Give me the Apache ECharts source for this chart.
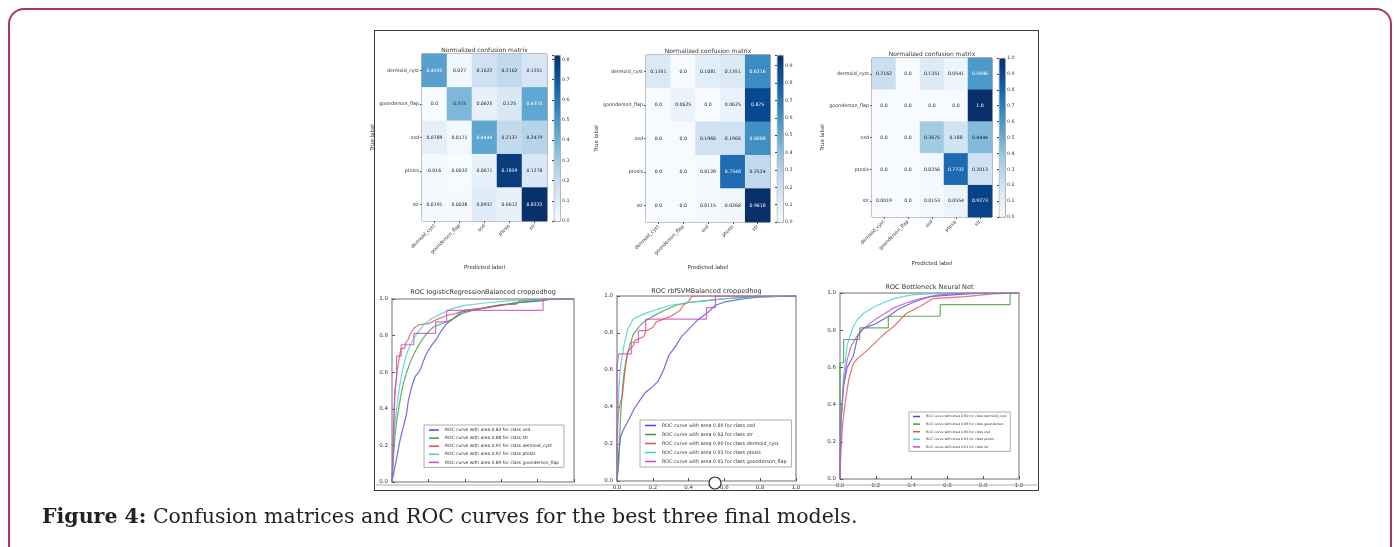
<!DOCTYPE html>
<html><head><meta charset="utf-8">
<script src="https://cdn.jsdelivr.net/npm/echarts@6/dist/echarts.min.js"></script>
<style>
html,body{margin:0;padding:0;width:1394px;height:547px;overflow:hidden;background:#fff;}
#frame{position:absolute;left:8px;top:8px;width:1384px;height:565px;border:2px solid #a8365f;border-radius:16px;box-sizing:border-box;}
#box{position:absolute;left:374px;top:30px;width:665px;height:461px;border:1.5px solid #3a3a3a;box-sizing:border-box;}
#chart{position:absolute;left:0;top:0;width:1394px;height:547px;}
#caption{position:absolute;left:42px;top:504px;font-family:'DejaVu Serif',serif;font-size:20.5px;color:#222;white-space:nowrap;}
</style></head>
<body>
<div id="frame"></div>
<div id="box"></div>
<div id="chart"></div>
<div id="caption"><b>Figure 4:</b> Confusion matrices and ROC curves for the best three final models.</div>
<script>
// ---------- data ----------
const cmCategories = ['dermoid_cyst','goonderson_flap','osd','ptosis','str'];
const cm1 = [
  [0.4595,0.027,0.1622,0.2162,0.1351],
  [0.0,0.375,0.0625,0.125,0.4375],
  [0.0789,0.0171,0.4444,0.2137,0.2479],
  [0.016,0.0032,0.0671,0.7859,0.1278],
  [0.0191,0.0038,0.0937,0.0612,0.8222]
];
const cm2 = [
  [0.1351,0.0,0.1081,0.1351,0.6216],
  [0.0,0.0625,0.0,0.0625,0.875],
  [0.0,0.0,0.1966,0.1966,0.6068],
  [0.0,0.0,0.0128,0.7348,0.2524],
  [0.0,0.0,0.0115,0.0268,0.9618]
];
const cm3 = [
  [0.2162,0.0,0.1351,0.0541,0.5946],
  [0.0,0.0,0.0,0.0,1.0],
  [0.0,0.0,0.3675,0.188,0.4444],
  [0.0,0.0,0.0256,0.7732,0.2013],
  [0.0019,0.0,0.0153,0.0554,0.9273]
];
const cmTitles = ['Normalized confusion matrix','Normalized confusion matrix','Normalized confusion matrix'];
const rocTitles = ['ROC logisticRegressionBalanced croppedhog','ROC rbfSVMBalanced croppedhog','ROC Bottleneck Neural Net'];

// ROC 1 (logistic regression)
const roc1Names = ['ROC curve with area 0.83 for class osd','ROC curve with area 0.88 for class str','ROC curve with area 0.91 for class dermoid_cyst','ROC curve with area 0.92 for class ptosis','ROC curve with area 0.89 for class goonderson_flap'];
const roc1_osd = [[0,0],[0.016,0.082],[0.044,0.228],[0.08,0.373],[0.09,0.446],[0.108,0.519],[0.126,0.574],[0.154,0.61],[0.181,0.683],[0.2,0.72],[0.218,0.747],[0.245,0.783],[0.273,0.829],[0.3,0.865],[0.337,0.893],[0.383,0.929],[0.456,0.942],[0.6,0.965],[0.69,0.98],[0.82,0.99],[0.88,1.0],[1,1]];
const roc1_str = [[0,0],[0.007,0.118],[0.016,0.246],[0.026,0.337],[0.044,0.446],[0.062,0.537],[0.081,0.601],[0.108,0.674],[0.136,0.729],[0.163,0.774],[0.19,0.811],[0.227,0.847],[0.273,0.865],[0.328,0.887],[0.383,0.92],[0.456,0.942],[0.548,0.96],[0.65,0.975],[0.77,0.99],[0.9,1.0],[1,1]];
const roc1_dermoid = [[0,0],[0.004,0.1],[0.008,0.3],[0.015,0.45],[0.022,0.55],[0.03,0.62],[0.04,0.68],[0.05,0.73],[0.07,0.73],[0.075,0.76],[0.09,0.78],[0.1,0.81],[0.12,0.84],[0.15,0.86],[0.2,0.865],[0.25,0.89],[0.3,0.91],[0.35,0.92],[0.4,0.94],[0.5,0.95],[0.6,0.97],[0.68,0.97],[0.7,0.99],[0.8,1.0],[1,1]];
const roc1_ptosis = [[0,0],[0.005,0.15],[0.016,0.32],[0.035,0.48],[0.053,0.59],[0.08,0.7],[0.108,0.765],[0.136,0.81],[0.172,0.856],[0.218,0.893],[0.273,0.92],[0.328,0.947],[0.4,0.965],[0.51,0.978],[0.64,0.99],[0.77,0.996],[1,1]];
const roc1_flap = [[0,0],[0.005,0.125],[0.01,0.3125],[0.015,0.5],[0.025,0.5625],[0.025,0.6875],[0.05,0.6875],[0.05,0.75],[0.12,0.75],[0.12,0.8125],[0.24,0.8125],[0.24,0.875],[0.3,0.875],[0.3,0.9375],[0.83,0.9375],[0.83,1.0],[1,1]];

// ROC 2 (rbf SVM)
const roc2Names = ['ROC curve with area 0.80 for class osd','ROC curve with area 0.92 for class str','ROC curve with area 0.90 for class dermoid_cyst','ROC curve with area 0.93 for class ptosis','ROC curve with area 0.91 for class goonderson_flap'];
const roc2_osd = [[0,0],[0.01,0.15],[0.02,0.24],[0.037,0.28],[0.065,0.33],[0.093,0.385],[0.13,0.44],[0.16,0.48],[0.2,0.51],[0.23,0.54],[0.26,0.6],[0.29,0.68],[0.325,0.725],[0.36,0.78],[0.4,0.82],[0.45,0.87],[0.5,0.905],[0.55,0.95],[0.61,0.97],[0.71,0.985],[0.8,0.995],[1,1]];
const roc2_str = [[0,0],[0.01,0.1],[0.02,0.35],[0.035,0.55],[0.05,0.65],[0.07,0.73],[0.09,0.79],[0.12,0.83],[0.15,0.86],[0.2,0.89],[0.26,0.92],[0.33,0.95],[0.4,0.965],[0.5,0.975],[0.6,0.985],[0.75,0.995],[1,1]];
const roc2_dermoid = [[0,0],[0,0.27],[0.01,0.38],[0.02,0.43],[0.03,0.46],[0.045,0.6],[0.06,0.7],[0.09,0.73],[0.1,0.76],[0.15,0.78],[0.16,0.81],[0.2,0.83],[0.22,0.86],[0.3,0.89],[0.35,0.92],[0.37,0.95],[0.4,0.97],[0.42,1.0],[1,1]];
const roc2_ptosis = [[0,0],[0.005,0.3],[0.01,0.5],[0.02,0.62],[0.04,0.74],[0.06,0.82],[0.09,0.875],[0.12,0.89],[0.17,0.91],[0.23,0.93],[0.3,0.95],[0.4,0.965],[0.5,0.975],[0.6,0.985],[0.8,0.995],[1,1]];
const roc2_flap = [[0,0],[0,0.625],[0.01,0.625],[0.01,0.6875],[0.08,0.6875],[0.08,0.75],[0.12,0.75],[0.12,0.8125],[0.16,0.8125],[0.16,0.875],[0.5,0.875],[0.5,0.9375],[0.55,0.9375],[0.55,1.0],[1,1]];

// ROC 3 (bottleneck neural net)
const roc3Names = ['ROC curve with area 0.90 for class dermoid_cyst','ROC curve with area 0.88 for class goonderson','ROC curve with area 0.86 for class osd','ROC curve with area 0.93 for class ptosis','ROC curve with area 0.91 for class str'];
const roc3_dermoid = [[0,0],[0.005,0.3],[0.02,0.5],[0.04,0.6],[0.074,0.66],[0.1,0.77],[0.13,0.81],[0.2,0.835],[0.28,0.88],[0.33,0.915],[0.41,0.95],[0.5,0.98],[0.63,0.99],[0.8,1.0],[1,1]];
const roc3_flap = [[0,0],[0,0.625],[0.02,0.625],[0.02,0.75],[0.11,0.75],[0.11,0.8125],[0.27,0.8125],[0.27,0.875],[0.56,0.875],[0.56,0.9375],[0.95,0.9375],[0.95,1.0],[1,1]];
const roc3_osd = [[0,0],[0.005,0.15],[0.015,0.3],[0.03,0.42],[0.05,0.54],[0.074,0.62],[0.1,0.65],[0.15,0.69],[0.22,0.755],[0.26,0.79],[0.3,0.82],[0.37,0.89],[0.45,0.93],[0.52,0.97],[0.7,0.98],[0.85,0.995],[1,1]];
const roc3_ptosis = [[0,0],[0.005,0.3],[0.02,0.55],[0.04,0.72],[0.074,0.82],[0.1,0.86],[0.13,0.89],[0.2,0.93],[0.3,0.97],[0.4,0.99],[0.5,0.995],[0.6,1.0],[1,1]];
const roc3_str = [[0,0],[0.005,0.3],[0.02,0.52],[0.04,0.64],[0.06,0.71],[0.09,0.76],[0.12,0.8],[0.16,0.83],[0.2,0.86],[0.25,0.89],[0.3,0.92],[0.38,0.95],[0.45,0.97],[0.55,0.99],[0.7,1.0],[1,1]];

// ---------- layout / style ----------
const FONT = 'DejaVu Sans';
const BLUES = ['#f7fbff','#deebf7','#c6dbef','#9ecae1','#6baed6','#4292c6','#2171b5','#08519c','#08306b'];
const ROC_COLORS = ['#4848e0','#3e9a3e','#e05050','#40d0d0','#c64cc6'];
const cmGrids = [
  {left:422, top:54, width:125, height:167, cb:{left:554, top:55, width:6, height:166}, title:47, nameGap:42, xGap:44},
  {left:646, top:55, width:124, height:167, cb:{left:777, top:55, width:6, height:167}, title:48, nameGap:43, xGap:43},
  {left:872, top:58, width:120, height:159, cb:{left:999, top:58, width:6, height:159}, title:51, nameGap:46, xGap:44}
];
const rocGrids = [
  {left:392, top:299, width:182, height:183, title:289, xlab:false, legend:{left:424, top:425, font:4.4, gap:4.1, pad:[3,5,3,5], iw:10}},
  {left:617, top:296, width:179, height:185, title:288, xlab:true, legend:{left:640, top:420, font:4.8, gap:4.0, pad:[3,5,3,5], iw:11}},
  {left:840, top:293, width:179, height:186, title:284, xlab:true, legend:{left:909, top:412, font:3.3, gap:4.6, pad:[3,4,3,4], iw:7}}
];

const cms = [cm1, cm2, cm3];
const rocs = [
  {names: roc1Names, data:[roc1_osd, roc1_str, roc1_dermoid, roc1_ptosis, roc1_flap]},
  {names: roc2Names, data:[roc2_osd, roc2_str, roc2_dermoid, roc2_ptosis, roc2_flap]},
  {names: roc3Names, data:[roc3_dermoid, roc3_flap, roc3_osd, roc3_ptosis, roc3_str]}
];

const fmtCell = v => Number.isInteger(v) ? v.toFixed(1) : String(v);

const option = {
  animation:false,
  backgroundColor:'transparent',
  textStyle:{fontFamily:FONT},
  title:[], grid:[], xAxis:[], yAxis:[], series:[], visualMap:[], legend:[],
  graphic:[
    {type:'line', shape:{x1:376, y1:485, x2:1037, y2:485}, style:{stroke:'#aaa', lineWidth:1}, z:50},
    {type:'circle', shape:{cx:715, cy:483, r:6}, style:{fill:'#fff', stroke:'#333', lineWidth:1.2}, z:60}
  ]
};

let gi = 0;
cms.forEach((cm, k) => {
  const g = cmGrids[k];
  let mx = 0; cm.forEach(r => r.forEach(v => { if (v > mx) mx = v; }));
  option.grid.push({left:g.left, top:g.top, width:g.width, height:g.height, show:true, borderColor:'#666', borderWidth:1, backgroundColor:'transparent'});
  option.xAxis.push({gridIndex:gi, type:'category', data:cmCategories, name:'Predicted label', nameLocation:'middle', nameGap:g.xGap,
    nameTextStyle:{fontSize:5.5, color:'#333'},
    axisLine:{show:false}, axisTick:{show:true, alignWithLabel:true, length:2, lineStyle:{color:'#555'}},
    axisLabel:{rotate:45, fontSize:4.8, color:'#333', margin:4}, splitLine:{show:false}});
  option.yAxis.push({gridIndex:gi, type:'category', data:cmCategories, inverse:true, name:'True label', nameLocation:'middle', nameGap:g.nameGap, nameRotate:90,
    nameTextStyle:{fontSize:5.5, color:'#333'},
    axisLine:{show:false}, axisTick:{show:true, alignWithLabel:true, length:2, lineStyle:{color:'#555'}},
    axisLabel:{fontSize:4.8, color:'#333', margin:3}, splitLine:{show:false}});
  const data = [];
  cm.forEach((row, i) => row.forEach((v, j) => {
    data.push({value:[j, i, v], label:{color: v > mx/2 ? '#ffffff' : '#222222'}});
  }));
  option.series.push({type:'heatmap', xAxisIndex:gi, yAxisIndex:gi, data:data,
    label:{show:true, fontSize:4.6, formatter:p => fmtCell(p.value[2])}, itemStyle:{borderWidth:0}});
  const sIdx = option.series.length - 1;
  option.visualMap.push({type:'continuous', seriesIndex:sIdx, min:0, max:mx, calculable:false, hoverLink:false,
    inRange:{color:BLUES}, left:g.cb.left, top:g.cb.top, itemWidth:g.cb.width, itemHeight:g.cb.height, padding:0, showLabel:false, text:null,
    borderColor:'#555', borderWidth:0.6});
  option.title.push({text:cmTitles[k], left:g.left + g.width/2, top:g.title, textAlign:'center', padding:0,
    textStyle:{fontSize:6, fontWeight:'normal', color:'#333', fontFamily:FONT}});
  gi++;
  option.grid.push({left:g.cb.left, top:g.cb.top, width:g.cb.width, height:g.cb.height, show:false});
  option.xAxis.push({gridIndex:gi, type:'value', show:false, min:0, max:1});
  option.yAxis.push({gridIndex:gi, type:'value', position:'right', min:0, max:mx, interval:0.1,
    axisLine:{show:false}, splitLine:{show:false},
    axisTick:{show:true, inside:true, length:2, lineStyle:{color:'#444'}},
    axisLabel:{fontSize:4.8, color:'#333', margin:2,
      formatter: v => (Math.abs(v*10 - Math.round(v*10)) < 1e-6 ? v.toFixed(1) : '')}});
  gi++;
});

rocs.forEach((r, k) => {
  const g = rocGrids[k];
  option.grid.push({left:g.left, top:g.top, width:g.width, height:g.height, show:true, borderColor:'#a0a0a0', borderWidth:1.5, backgroundColor:'transparent'});
  const mk = (showLab) => ({gridIndex:gi, type:'value', min:0, max:1, interval:0.2,
    axisLine:{show:false}, splitLine:{show:false},
    axisTick:{show:true, inside:true, length:3, lineStyle:{color:'#555'}},
    axisLabel:{show:showLab, fontSize:5.5, color:'#333', margin:4, formatter: v => v.toFixed(1)}});
  option.xAxis.push(mk(g.xlab));
  option.yAxis.push(mk(true));
  r.data.forEach((pts, s) => {
    option.series.push({type:'line', name:r.names[s], xAxisIndex:gi, yAxisIndex:gi, data:pts, showSymbol:false, symbol:'none',
      lineStyle:{width:1.2, color:ROC_COLORS[s], opacity:0.8}, itemStyle:{color:ROC_COLORS[s]}, clip:true});
  });
  option.title.push({text:rocTitles[k], left:g.left + g.width/2, top:g.title, textAlign:'center', padding:0,
    textStyle:{fontSize:6.5, fontWeight:'normal', color:'#333', fontFamily:FONT}});
  const L = g.legend;
  option.legend.push({orient:'vertical', left:L.left, top:L.top, padding:L.pad, itemGap:L.gap,
    itemWidth:L.iw, itemHeight:1.5, icon:'rect', borderColor:'#999', borderWidth:0.8, backgroundColor:'#fff',
    selectedMode:false,
    textStyle:{fontSize:L.font, color:'#333', fontFamily:FONT, padding:[0,0,0,1]},
    data: r.names.map((n, s) => ({name:n, itemStyle:{color:ROC_COLORS[s]}}))});
  gi++;
});

const chart = echarts.init(document.getElementById('chart'), null, {renderer:'canvas'});
chart.setOption(option);
</script>
</body></html>
